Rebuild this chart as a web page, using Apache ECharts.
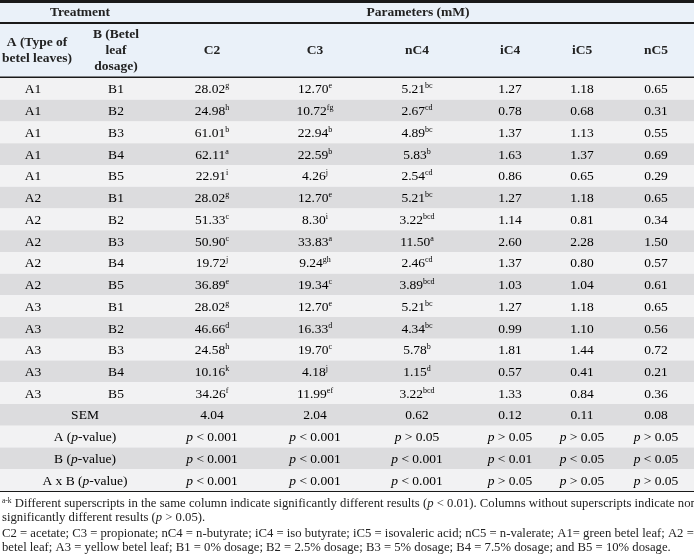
<!DOCTYPE html>
<html><head><meta charset="utf-8">
<script src="https://cdn.jsdelivr.net/npm/echarts@6/dist/echarts.min.js"></script>
<style>html,body{margin:0;padding:0;background:#fff}#c{width:694px;height:555px}</style>
</head><body><div id="c"></div>
<script>
// table rows
var colA = ['A1','A1','A1','A1','A1','A2','A2','A2','A2','A2','A3','A3','A3','A3','A3'];
var colB = ['B1','B2','B3','B4','B5','B1','B2','B3','B4','B5','B1','B2','B3','B4','B5'];
var c2 = [28.02,24.98,61.01,62.11,22.91,28.02,51.33,50.90,19.72,36.89,28.02,46.66,24.58,10.16,34.26];
var c2Sup = ['g','h','b','a','i','g','c','c','j','e','g','d','h','k','f'];
var c3 = [12.70,10.72,22.94,22.59,4.26,12.70,8.30,33.83,9.24,19.34,12.70,16.33,19.70,4.18,11.99];
var c3Sup = ['e','fg','b','b','j','e','i','a','gh','c','e','d','c','j','ef'];
var nc4 = [5.21,2.67,4.89,5.83,2.54,5.21,3.22,11.50,2.46,3.89,5.21,4.34,5.78,1.15,3.22];
var nc4Sup = ['bc','cd','bc','b','cd','bc','bcd','a','cd','bcd','bc','bc','b','d','bcd'];
var ic4 = [1.27,0.78,1.37,1.63,0.86,1.27,1.14,2.60,1.37,1.03,1.27,0.99,1.81,0.57,1.33];
var ic5 = [1.18,0.68,1.13,1.37,0.65,1.18,0.81,2.28,0.80,1.04,1.18,1.10,1.44,0.41,0.84];
var nc5 = [0.65,0.31,0.55,0.69,0.29,0.65,0.34,1.50,0.57,0.61,0.65,0.56,0.72,0.21,0.36];
var sem = [4.04,2.04,0.62,0.12,0.11,0.08];
var statLabels = ['A', 'B', 'A x B'];
var pA = ['< 0.001','< 0.001','> 0.05','> 0.05','> 0.05','> 0.05'];
var pB = ['< 0.001','< 0.001','< 0.001','< 0.01','< 0.05','< 0.05'];
var pAB = ['< 0.001','< 0.001','< 0.001','> 0.05','> 0.05','> 0.05'];
var headers = ['C2','C3','nC4','iC4','iC5','nC5'];

// layout: column centres on a 0..694 x scale
var colX = [33, 116, 212, 315, 417, 510, 582, 656];
var F = 'Liberation Serif, Times New Roman, serif';

function sup(v, s) { return '{v|' + v.toFixed(2) + '}' + (s ? '{s|' + s + '}' : ''); }
var rows = [];
for (var i = 0; i < colA.length; i++) {
  rows.push(['{v|' + colA[i] + '}', '{v|' + colB[i] + '}', sup(c2[i], c2Sup[i]), sup(c3[i], c3Sup[i]), sup(nc4[i], nc4Sup[i]),
    sup(ic4[i]), sup(ic5[i]), sup(nc5[i])]);
}
rows.push(['{v|SEM}'].concat(sem.map(function (v) { return sup(v); })));
[pA, pB, pAB].forEach(function (arr, k) {
  rows.push(['{v|' + statLabels[k] + ' (}{i|p}{v|-value)}'].concat(arr.map(function (t) { return '{i|p}{v| ' + t + '}'; })));
});
var rowIdx = rows.map(function (r, i) { return i; });

var rich = {
  v: { fontFamily: F, fontSize: 13.5, color: '#222' },
  s: { fontFamily: F, fontSize: 8, color: '#222', padding: [0, 0, 7, 0] },
  i: { fontFamily: F, fontSize: 13.5, fontStyle: 'italic', color: '#222' }
};

var chart = echarts.init(document.getElementById('c'));
var hdr = { fontFamily: F, fontSize: 13.5, fontWeight: 'bold', fill: '#222', align: 'center', verticalAlign: 'middle' };
function t(x, y, text, extra) {
  return { type: 'text', x: x, y: y, style: Object.assign({}, hdr, { text: text }, extra || {}) };
}
function line(y, w) {
  return { type: 'line', shape: { x1: 0, y1: y, x2: 694, y2: y }, style: { stroke: '#1a1a1a', lineWidth: w } };
}
var FS = 12.7;
var foot = { fontFamily: F, fontSize: FS, fontWeight: 'normal', align: 'left', fill: '#222', verticalAlign: 'middle' };
var footRich = { s: { fontSize: 7.5, padding: [0, 0, 6, 0], fontFamily: F }, i: { fontStyle: 'italic', fontFamily: F, fontSize: FS } };
chart.setOption({
  animation: false,
  grid: { left: 0, right: 0, top: 78, bottom: 64 },
  xAxis: { type: 'value', min: 0, max: 694, show: false },
  yAxis: { type: 'category', data: rowIdx, inverse: true, show: false },
  graphic: [
    { type: 'rect', shape: { x: 0, y: 0, width: 694, height: 78 }, style: { fill: '#eaf1f9' }, z: -1 },
    t(80, 13, 'Treatment'), t(418, 13, 'Parameters (mM)'),
    t(37, 43, 'A (Type of'), t(37, 59, 'betel leaves)'),
    t(116, 35, 'B (Betel'), t(116, 51, 'leaf'), t(116, 67, 'dosage)'),
    t(212, 51, headers[0]), t(315, 51, headers[1]), t(417, 51, headers[2]),
    t(510, 51, headers[3]), t(582, 51, headers[4]), t(656, 51, headers[5]),
    line(1.5, 3), line(23, 2), line(77.5, 2), line(490.5, 3),
    { type: 'text', x: 2, y: 504, style: Object.assign({}, foot, { text: '{s|a-k} Different superscripts in the same column indicate significantly different results ({i|p} < 0.01). Columns without superscripts indicate non-', rich: footRich }) },
    { type: 'text', x: 2, y: 518, style: Object.assign({}, foot, { text: 'significantly different results ({i|p} > 0.05).', rich: footRich }) },
    { type: 'text', x: 2, y: 534, style: Object.assign({}, foot, { text: 'C2 = acetate; C3 = propionate; nC4 = n-butyrate; iC4 = iso butyrate; iC5 = isovaleric acid; nC5 = n-valerate; A1= green betel leaf; A2 = red' }) },
    { type: 'text', x: 2, y: 548, style: Object.assign({}, foot, { text: 'betel leaf; A3 = yellow betel leaf; B1 = 0% dosage; B2 = 2.5% dosage; B3 = 5% dosage; B4 = 7.5% dosage; and B5 = 10% dosage.' }) }
  ],
  series: [{
    type: 'custom',
    data: rowIdx,
    encode: { y: 0 },
    renderItem: function (params, api) {
      var r = api.value(0);
      var cs = params.coordSys;
      var cy = api.coord([0, r])[1];
      var h = api.size([0, 1])[1];
      var cells = rows[r];
      var kids = [{ type: 'rect', shape: { x: cs.x, y: cy - h / 2, width: cs.width, height: h },
        style: { fill: r % 2 ? '#dcdcde' : '#f2f2f3' } }];
      var stat = r >= colA.length;
      cells.forEach(function (txt, c) {
        var xi = stat ? (c === 0 ? 0 : c + 1) : c;
        var x = stat && c === 0 ? api.coord([85, r])[0] : api.coord([colX[xi], r])[0];
        kids.push({ type: 'text', x: x, y: cy + 1, style: { text: txt, rich: rich, align: 'center', verticalAlign: 'middle' } });
      });
      return { type: 'group', children: kids };
    }
  }]
});
</script></body></html>
